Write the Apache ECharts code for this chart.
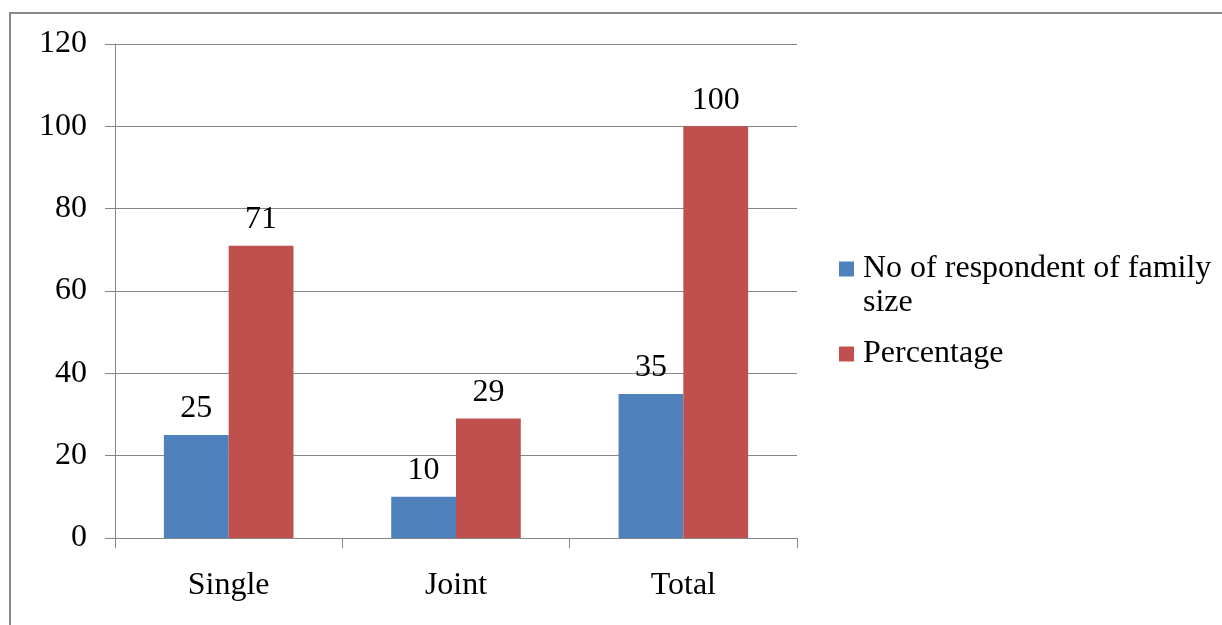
<!DOCTYPE html>
<html>
<head>
<meta charset="utf-8">
<script src="https://cdn.jsdelivr.net/npm/echarts@6/dist/echarts.min.js"></script>
<style>
  html, body { margin: 0; padding: 0; background: #fff; }
  #chart { width: 1222px; height: 625px; }
</style>
</head>
<body>
<div id="chart"></div>
<script>
// Family type categories and the two measured series
const categories = ['Single', 'Joint', 'Total'];
const respondents = [25, 10, 35];
const percentage = [71, 29, 100];
const seriesNames = ['No of respondent of family size', 'Percentage'];
const yTicks = { min: 0, max: 120, interval: 20 };

const FONT = '"Liberation Serif", "Times New Roman", serif';
const FS = 32;
const squareIcon = 'path://M0,0h15v15h-15z';

const chart = echarts.init(document.getElementById('chart'), null, { renderer: 'canvas' });

chart.setOption({
  backgroundColor: '#ffffff',
  animation: false,
  textStyle: { fontFamily: FONT, color: '#000' },
  graphic: [{
    type: 'rect',
    shape: { x: 10, y: 13, width: 1400, height: 800 },
    style: { fill: null, stroke: '#898989', lineWidth: 2 },
    silent: true
  }],
  grid: { left: 115, right: 425, top: 44, bottom: 87, containLabel: false },
  legend: {
    orient: 'vertical',
    left: 839,
    top: 218,
    padding: 0,
    itemGap: 17,
    itemWidth: 23,
    itemHeight: 15,
    symbolKeepAspect: true,
    textStyle: { fontFamily: FONT, fontSize: FS, color: '#000', lineHeight: 34 },
    data: [
      { name: seriesNames[0], icon: squareIcon },
      { name: seriesNames[1], icon: squareIcon }
    ],
    // first legend entry wraps onto two lines; the leading blank line keeps
    // the marker level with the first line of text
    formatter: function (name) {
      return name === seriesNames[0] ? '\nNo of respondent of family\nsize' : name;
    }
  },
  xAxis: {
    type: 'category',
    data: categories,
    axisLine: { lineStyle: { color: '#868686', width: 1 } },
    axisTick: { show: true, length: 10, lineStyle: { color: '#868686' }, alignWithLabel: false },
    axisLabel: { fontFamily: FONT, fontSize: FS, color: '#000', margin: 32 }
  },
  yAxis: {
    type: 'value',
    min: yTicks.min,
    max: yTicks.max,
    interval: yTicks.interval,
    axisLine: { show: true, lineStyle: { color: '#868686', width: 1 } },
    axisTick: { show: true, length: 10, lineStyle: { color: '#868686' } },
    axisLabel: { fontFamily: FONT, fontSize: FS, color: '#000', margin: 28, padding: [8, 0, 0, 0] },
    splitLine: { show: true, lineStyle: { color: '#868686', width: 1 } }
  },
  series: [
    {
      name: seriesNames[0],
      type: 'bar',
      data: respondents,
      barGap: '0%',
      barCategoryGap: '43%',
      itemStyle: { color: '#4F81BD' },
      label: { show: true, position: 'top', distance: 10, fontFamily: FONT, fontSize: FS, color: '#000' }
    },
    {
      name: seriesNames[1],
      type: 'bar',
      data: percentage,
      barGap: '0%',
      barCategoryGap: '43%',
      itemStyle: { color: '#C0504D' },
      label: { show: true, position: 'top', distance: 10, fontFamily: FONT, fontSize: FS, color: '#000' }
    }
  ]
});
</script>
</body>
</html>
